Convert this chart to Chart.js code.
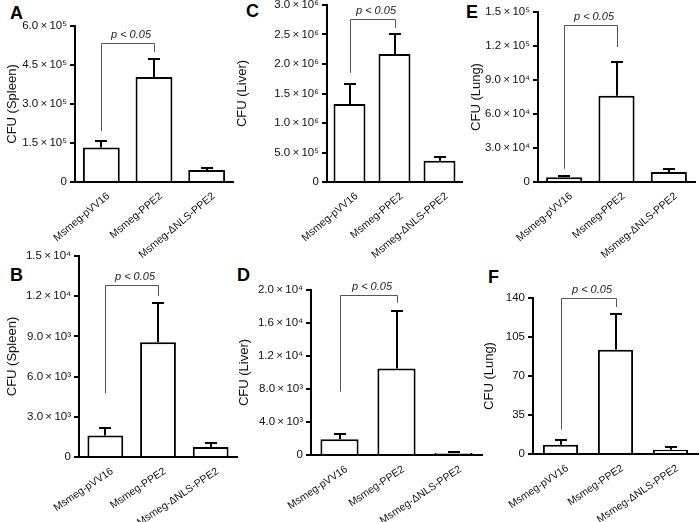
<!DOCTYPE html>
<html><head><meta charset="utf-8">
<script src="https://cdn.jsdelivr.net/npm/chart.js@4.4.1/dist/chart.umd.min.js"></script>
<style>
html,body{margin:0;padding:0;background:#fff;}
body{width:700px;height:522px;overflow:hidden;position:relative;font-family:"Liberation Sans",Arial,Helvetica,sans-serif;}
.pane{position:absolute;}
.pane canvas{display:block;}
.lbl{position:absolute;font-weight:bold;font-size:18px;line-height:18px;color:#000;}
</style></head><body>
<div class="lbl" style="left:10px;top:4px">A</div>
<div class="lbl" style="left:246px;top:2px">C</div>
<div class="lbl" style="left:466px;top:3px">E</div>
<div class="lbl" style="left:10px;top:266px">B</div>
<div class="lbl" style="left:237px;top:266px">D</div>
<div class="lbl" style="left:488px;top:268px">F</div>
<script>
// ---- data ----
const categories = ["Msmeg-pVV16", "Msmeg-PPE2", "Msmeg-\u0394NLS-PPE2"];
const pLabel = "p < 0.05";

const spleenA = [1.33e5, 4.04e5, 0.46e5];
const spleenAErr = [0.23e5, 0.69e5, 0.07e5];
const spleenABracket = [1.96e5, 5.35e5, 5.0e5];
const ticksA = ["0", "1.5\u2009\u00d7\u200910\u2075", "3.0\u2009\u00d7\u200910\u2075", "4.5\u2009\u00d7\u200910\u2075", "6.0\u2009\u00d7\u200910\u2075"];

const spleenB = [1.6e3, 8.56e3, 0.74e3];
const spleenBErr = [0.58e3, 2.9e3, 0.27e3];
const spleenBBracket = [4.76e3, 12.8e3, 12.0e3];
const ticksB = ["0", "3.0\u2009\u00d7\u200910\u00b3", "6.0\u2009\u00d7\u200910\u00b3", "9.0\u2009\u00d7\u200910\u00b3", "1.2\u2009\u00d7\u200910\u2074", "1.5\u2009\u00d7\u200910\u2074"];

const liverC = [1.32e6, 2.17e6, 0.36e6];
const liverCErr = [0.34e6, 0.34e6, 0.07e6];
const liverCBracket = [1.85e6, 2.76e6, 2.61e6];
const ticksC = ["0", "5.0\u2009\u00d7\u200910\u2075", "1.0\u2009\u00d7\u200910\u2076", "1.5\u2009\u00d7\u200910\u2076", "2.0\u2009\u00d7\u200910\u2076", "2.5\u2009\u00d7\u200910\u2076", "3.0\u2009\u00d7\u200910\u2076"];

const liverD = [1.9e3, 10.5e3, 0.25e3];
const liverDErr = [0.6e3, 6.95e3, 0.1e3];
const liverDBracket = [7.67e3, 19.4e3, 18.46e3];
const ticksD = ["0", "4.0\u2009\u00d7\u200910\u00b3", "8.0\u2009\u00d7\u200910\u00b3", "1.2\u2009\u00d7\u200910\u2074", "1.6\u2009\u00d7\u200910\u2074", "2.0\u2009\u00d7\u200910\u2074"];

const lungE = [0.41e4, 7.6e4, 0.88e4];
const lungEErr = [0.1e4, 3.0e4, 0.29e4];
const lungEBracket = [1.17e4, 1.383e5, 1.19e5];
const ticksE = ["0", "3.0\u2009\u00d7\u200910\u2074", "6.0\u2009\u00d7\u200910\u2074", "9.0\u2009\u00d7\u200910\u2074", "1.2\u2009\u00d7\u200910\u2075", "1.5\u2009\u00d7\u200910\u2075"];

const lungF = [8.3, 93.6, 3.9];
const lungFErr = [3.9, 32.4, 2.0];
const lungFBracket = [21.9, 140, 131.9];
const ticksF = ["0", "35", "70", "105", "140"];

const FAMILY = '"Liberation Sans", Arial, Helvetica, sans-serif';
Chart.defaults.font.family = FAMILY;

const errPlugin = {
  id: 'errBars',
  afterDatasetsDraw(chart, args, opts) {
    const ctx = chart.ctx;
    const meta = chart.getDatasetMeta(0);
    const ys = chart.scales.y;
    ctx.save();
    ctx.strokeStyle = '#000';
    ctx.lineWidth = 2;
    meta.data.forEach((bar, i) => {
      const v = opts.values[i], e = opts.errors[i];
      const y0 = ys.getPixelForValue(v), y1 = Math.round(ys.getPixelForValue(v + e));
      const x = Math.round(bar.x);
      ctx.beginPath();
      ctx.moveTo(x, y0); ctx.lineTo(x, y1);
      ctx.moveTo(x - 6, y1); ctx.lineTo(x + 6, y1);
      ctx.stroke();
    });
    const b = opts.bracket;
    const x1 = Math.round(meta.data[0].x) + 0.5, x2 = Math.round(meta.data[1].x) + 0.5;
    const yl = ys.getPixelForValue(b[0]), yt = Math.round(ys.getPixelForValue(b[1])) + 0.5, yr = ys.getPixelForValue(b[2]);
    ctx.strokeStyle = '#555';
    ctx.lineWidth = 1;
    ctx.beginPath();
    ctx.moveTo(x1, yl); ctx.lineTo(x1, yt); ctx.lineTo(x2, yt); ctx.lineTo(x2, yr);
    ctx.stroke();
    ctx.fillStyle = '#222';
    ctx.font = 'italic 11px ' + FAMILY;
    ctx.textAlign = 'center';
    ctx.textBaseline = 'middle';
    ctx.fillText(opts.label, (x1 + x2) / 2 + 3, yt - 9);
    ctx.restore();
  }
};

function makePanel(box, area, values, errors, bracket, ticks, yMax, yStep, yTitle, titlePad, barPct, rot) {
  const wrap = document.createElement('div');
  wrap.className = 'pane';
  wrap.style.left = box[0] + 'px'; wrap.style.top = box[1] + 'px';
  wrap.style.width = box[2] + 'px'; wrap.style.height = box[3] + 'px';
  const cv = document.createElement('canvas');
  cv.width = box[2]; cv.height = box[3];
  cv.style.width = box[2] + 'px'; cv.style.height = box[3] + 'px';
  wrap.appendChild(cv);
  document.body.appendChild(wrap);
  const yW = area.l - box[0];
  const padTop = area.t - box[1];
  const padRight = box[0] + box[2] - area.r;
  const xH = box[1] + box[3] - area.b;
  new Chart(cv, {
    type: 'bar',
    data: {
      labels: categories,
      datasets: [{
        data: values, backgroundColor: '#fff', borderColor: '#000', borderWidth: 2,
        borderSkipped: 'start', barPercentage: barPct, categoryPercentage: 1
      }]
    },
    options: {
      responsive: false, animation: false, devicePixelRatio: 1,
      layout: { padding: { left: 0, top: padTop, right: padRight, bottom: 0 } },
      plugins: {
        legend: { display: false }, tooltip: { enabled: false },
        errBars: { values: values, errors: errors, bracket: bracket, label: pLabel }
      },
      scales: {
        x: {
          grid: { display: false },
          border: { display: true, color: '#000', width: 2 },
          ticks: { color: '#111', font: { size: 10.5 }, maxRotation: rot, minRotation: rot, autoSkip: false, padding: 0, labelOffset: 7 },
          afterFit(s) { s.height = xH; }
        },
        y: {
          min: 0, max: yMax,
          ticks: { stepSize: yStep, callback: (v, i) => ticks[i], color: '#111', font: { size: 11.5 }, padding: 3 },
          grid: { display: true, drawOnChartArea: false, drawTicks: true, tickLength: 5, color: '#000', lineWidth: 2 },
          border: { display: true, color: '#000', width: 2 },
          title: { display: true, text: yTitle, color: '#111', font: { size: 13 }, padding: { top: titlePad, bottom: 0 } },
          afterFit(s) { s.width = yW; }
        }
      }
    },
    plugins: [errPlugin]
  });
}

makePanel([0, 0, 236, 263], { l: 75, r: 233, t: 26, b: 182 }, spleenA, spleenAErr, spleenABracket, ticksA, 6e5, 1.5e5, "CFU (Spleen)", 5, 0.7, 40);
makePanel([232, -10, 234, 273], { l: 327, r: 462, t: 5, b: 182 }, liverC, liverCErr, liverCBracket, ticksC, 3e6, 5e5, "CFU (Liver)", 2.5, 0.71, 40);
makePanel([466, -5, 234, 268], { l: 538, r: 695, t: 12, b: 182 }, lungE, lungEErr, lungEBracket, ticksE, 1.5e5, 3e4, "CFU (Lung)", 2.5, 0.69, 40);
makePanel([0, 245, 240, 277], { l: 79, r: 237, t: 256, b: 457 }, spleenB, spleenBErr, spleenBBracket, ticksB, 1.5e4, 3e3, "CFU (Spleen)", 5, 0.68, 34);
makePanel([232, 245, 252, 277], { l: 311, r: 482, t: 290, b: 455 }, liverD, liverDErr, liverDBracket, ticksD, 2e4, 4e3, "CFU (Liver)", 4.5, 0.67, 34);
makePanel([466, 245, 234, 277], { l: 533, r: 698, t: 298, b: 454 }, lungF, lungFErr, lungFBracket, ticksF, 140, 35, "CFU (Lung)", 16, 0.64, 34);
</script>
</body></html>
